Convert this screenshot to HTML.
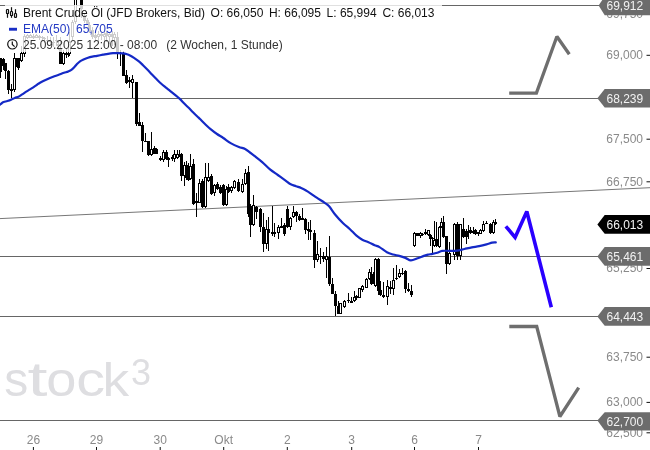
<!DOCTYPE html>
<html><head><meta charset="utf-8"><style>
html,body{margin:0;padding:0;background:#fff;}
body{width:650px;height:450px;overflow:hidden;position:relative;}
svg{position:absolute;left:0;top:0;display:block;will-change:transform;}
svg text{font-family:"Liberation Sans", Arial, sans-serif;font-size:12px;}
.ax{fill:#8a8a8a;}
.tg{fill:#f2f2f2;}
.wf{fill:#fff;}
.lg1{fill:#111;}
.lg2{fill:#2339c4;}
.lg3{fill:#333;}
.wm{fill:#dedee1;font-size:50px;}
</style></head><body>
<svg width="650" height="450" viewBox="0 0 650 450">
<g class="wmg" style="font-size:48px"><text class="wm" style="font-size:48px" transform="translate(4.2,396.3)">s</text><text class="wm" style="font-size:48px" transform="translate(27.4,396.3) scale(1.5,1)">t</text><text class="wm" style="font-size:48px" transform="translate(46.3,396.3) scale(1.13,1)">o</text><text class="wm" style="font-size:48px" transform="translate(76.3,396.3) scale(1.2,1)">c</text><text class="wm" style="font-size:48px" transform="translate(102.6,396.3) scale(1.11,0.95)">k</text></g>
<text x="131" y="384.6" class="wm" style="font-size:36px">3</text>
<g fill="#666">
<rect x="0" y="5" width="600" height="1"/>
<rect x="13" y="98" width="587" height="1"/>
<rect x="0" y="256" width="600" height="1"/>
<rect x="0" y="316" width="600" height="1"/>
<rect x="0" y="420" width="600" height="1"/>
</g>
<line x1="0" y1="218.6" x2="650" y2="187.7" stroke="#777" stroke-width="1"/>
<g fill="#000">
<rect x="0" y="58" width="1" height="20"/>
<rect x="-1" y="58" width="3" height="14"/>
<rect x="3" y="58" width="1" height="12"/>
<rect x="2" y="59" width="3" height="7"/>
<rect x="5" y="63" width="1" height="16"/>
<rect x="4" y="63" width="3" height="8"/>
<rect x="8" y="70" width="1" height="24"/>
<rect x="7" y="71" width="3" height="19"/>
<rect x="11" y="84" width="1" height="14"/>
<rect x="10" y="89" width="3" height="2"/>
<rect x="14" y="53" width="1" height="39"/>
<rect x="13" y="58" width="3" height="32"/>
<rect class="wf" x="14" y="59" width="1" height="30"/>
<rect x="16" y="58" width="1" height="9"/>
<rect x="15" y="58" width="3" height="9"/>
<rect x="18" y="58" width="1" height="12"/>
<rect x="17" y="58" width="3" height="10"/>
<rect x="21" y="46" width="1" height="16"/>
<rect x="20" y="53" width="3" height="8"/>
<rect class="wf" x="21" y="54" width="1" height="6"/>
<rect x="24" y="34" width="1" height="23"/>
<rect x="23" y="36" width="3" height="18"/>
<rect class="wf" x="24" y="37" width="1" height="16"/>
<rect x="27" y="34" width="1" height="5"/>
<rect x="26" y="35" width="3" height="3"/>
<rect class="wf" x="27" y="36" width="1" height="1"/>
<rect x="30" y="34" width="1" height="4"/>
<rect x="29" y="35" width="3" height="3"/>
<rect class="wf" x="30" y="36" width="1" height="1"/>
<rect x="33" y="34" width="1" height="5"/>
<rect x="32" y="36" width="3" height="2"/>
<rect x="36" y="34" width="1" height="4"/>
<rect x="35" y="35" width="3" height="3"/>
<rect class="wf" x="36" y="36" width="1" height="1"/>
<rect x="39" y="35" width="1" height="5"/>
<rect x="38" y="36" width="3" height="2"/>
<rect x="42" y="36" width="1" height="5"/>
<rect x="41" y="37" width="3" height="1"/>
<rect x="44" y="37" width="1" height="6"/>
<rect x="43" y="38" width="3" height="1"/>
<rect x="47" y="36" width="1" height="9"/>
<rect x="46" y="40" width="3" height="1"/>
<rect x="50" y="37" width="1" height="9"/>
<rect x="49" y="41" width="3" height="1"/>
<rect x="53" y="37" width="1" height="10"/>
<rect x="52" y="42" width="3" height="1"/>
<rect x="56" y="35" width="1" height="11"/>
<rect x="55" y="40" width="3" height="1"/>
<rect x="58" y="41" width="1" height="9"/>
<rect x="57" y="44" width="3" height="2"/>
<rect x="60" y="37" width="1" height="27"/>
<rect x="59" y="49" width="3" height="15"/>
<rect x="63" y="50" width="1" height="15"/>
<rect x="62" y="53" width="3" height="11"/>
<rect class="wf" x="63" y="54" width="1" height="9"/>
<rect x="66" y="49" width="1" height="9"/>
<rect x="65" y="53" width="3" height="2"/>
<rect x="68" y="48" width="1" height="9"/>
<rect x="67" y="54" width="3" height="1"/>
<rect x="69" y="32" width="1" height="24"/>
<rect x="68" y="42" width="3" height="12"/>
<rect class="wf" x="69" y="43" width="1" height="10"/>
<rect x="72" y="20" width="1" height="20"/>
<rect x="71" y="22" width="3" height="15"/>
<rect class="wf" x="72" y="23" width="1" height="13"/>
<rect x="75" y="-3" width="1" height="27"/>
<rect x="74" y="-2" width="3" height="24"/>
<rect class="wf" x="75" y="-1" width="1" height="22"/>
<rect x="81" y="-3" width="1" height="21"/>
<rect x="80" y="-2" width="3" height="11"/>
<rect x="84" y="14" width="1" height="9"/>
<rect x="83" y="16" width="3" height="5"/>
<rect x="87" y="18" width="1" height="7"/>
<rect x="86" y="20" width="3" height="4"/>
<rect x="89" y="22" width="1" height="11"/>
<rect x="88" y="25" width="3" height="6"/>
<rect x="92" y="27" width="1" height="12"/>
<rect x="91" y="30" width="3" height="7"/>
<rect x="95" y="30" width="1" height="12"/>
<rect x="94" y="35" width="3" height="3"/>
<rect x="98" y="31" width="1" height="13"/>
<rect x="97" y="34" width="3" height="3"/>
<rect class="wf" x="98" y="35" width="1" height="1"/>
<rect x="101" y="31" width="1" height="9"/>
<rect x="100" y="34" width="3" height="2"/>
<rect x="104" y="32" width="1" height="14"/>
<rect x="103" y="34" width="3" height="3"/>
<rect class="wf" x="104" y="35" width="1" height="1"/>
<rect x="106" y="31" width="1" height="11"/>
<rect x="105" y="33" width="3" height="3"/>
<rect x="109" y="32" width="1" height="12"/>
<rect x="108" y="34" width="3" height="3"/>
<rect class="wf" x="109" y="35" width="1" height="1"/>
<rect x="112" y="31" width="1" height="15"/>
<rect x="111" y="34" width="3" height="3"/>
<rect x="114" y="32" width="1" height="13"/>
<rect x="113" y="34" width="3" height="4"/>
<rect class="wf" x="114" y="35" width="1" height="2"/>
<rect x="117" y="32" width="1" height="27"/>
<rect x="116" y="37" width="3" height="17"/>
<rect x="120" y="50" width="1" height="16"/>
<rect x="119" y="53" width="3" height="1"/>
<rect x="123" y="51" width="1" height="25"/>
<rect x="122" y="53" width="3" height="23"/>
<rect x="126" y="70" width="1" height="14"/>
<rect x="125" y="75" width="3" height="8"/>
<rect x="129" y="77" width="1" height="11"/>
<rect x="128" y="80" width="3" height="2"/>
<rect x="132" y="75" width="1" height="23"/>
<rect x="131" y="79" width="3" height="4"/>
<rect class="wf" x="132" y="80" width="1" height="2"/>
<rect x="136" y="82" width="1" height="44"/>
<rect x="135" y="82" width="3" height="42"/>
<rect x="139" y="113" width="1" height="13"/>
<rect x="138" y="122" width="3" height="4"/>
<rect x="142" y="122" width="1" height="30"/>
<rect x="141" y="125" width="3" height="16"/>
<rect x="145" y="133" width="1" height="9"/>
<rect x="144" y="141" width="3" height="1"/>
<rect x="148" y="141" width="1" height="15"/>
<rect x="147" y="141" width="3" height="14"/>
<rect x="151" y="132" width="1" height="24"/>
<rect x="150" y="149" width="3" height="6"/>
<rect class="wf" x="151" y="150" width="1" height="4"/>
<rect x="154" y="146" width="1" height="8"/>
<rect x="153" y="148" width="3" height="6"/>
<rect x="156" y="148" width="1" height="6"/>
<rect x="155" y="149" width="3" height="5"/>
<rect x="160" y="156" width="1" height="5"/>
<rect x="159" y="158" width="3" height="2"/>
<rect x="163" y="150" width="1" height="12"/>
<rect x="162" y="152" width="3" height="8"/>
<rect class="wf" x="163" y="153" width="1" height="6"/>
<rect x="166" y="150" width="1" height="10"/>
<rect x="165" y="152" width="3" height="7"/>
<rect x="168" y="157" width="1" height="10"/>
<rect x="167" y="158" width="3" height="2"/>
<rect x="172" y="155" width="1" height="6"/>
<rect x="171" y="157" width="3" height="2"/>
<rect x="174" y="150" width="1" height="12"/>
<rect x="173" y="154" width="3" height="5"/>
<rect class="wf" x="174" y="155" width="1" height="3"/>
<rect x="177" y="150" width="1" height="9"/>
<rect x="176" y="154" width="3" height="4"/>
<rect class="wf" x="177" y="155" width="1" height="2"/>
<rect x="179" y="150" width="1" height="7"/>
<rect x="178" y="154" width="3" height="2"/>
<rect x="181" y="153" width="1" height="28"/>
<rect x="180" y="154" width="3" height="22"/>
<rect x="184" y="162" width="1" height="24"/>
<rect x="183" y="165" width="3" height="11"/>
<rect class="wf" x="184" y="166" width="1" height="9"/>
<rect x="186" y="161" width="1" height="19"/>
<rect x="185" y="165" width="3" height="13"/>
<rect x="188" y="163" width="1" height="18"/>
<rect x="187" y="166" width="3" height="14"/>
<rect x="190" y="154" width="1" height="26"/>
<rect x="189" y="166" width="3" height="13"/>
<rect class="wf" x="190" y="167" width="1" height="11"/>
<rect x="193" y="159" width="1" height="46"/>
<rect x="192" y="164" width="3" height="40"/>
<rect x="196" y="193" width="1" height="24"/>
<rect x="195" y="201" width="3" height="2"/>
<rect x="199" y="179" width="1" height="24"/>
<rect x="198" y="183" width="3" height="20"/>
<rect class="wf" x="199" y="184" width="1" height="18"/>
<rect x="202" y="179" width="1" height="29"/>
<rect x="201" y="181" width="3" height="26"/>
<rect x="205" y="163" width="1" height="45"/>
<rect x="204" y="177" width="3" height="30"/>
<rect class="wf" x="205" y="178" width="1" height="28"/>
<rect x="208" y="163" width="1" height="19"/>
<rect x="207" y="177" width="3" height="4"/>
<rect class="wf" x="208" y="178" width="1" height="2"/>
<rect x="211" y="174" width="1" height="21"/>
<rect x="210" y="176" width="3" height="18"/>
<rect x="214" y="184" width="1" height="12"/>
<rect x="213" y="185" width="3" height="8"/>
<rect class="wf" x="214" y="186" width="1" height="6"/>
<rect x="217" y="182" width="1" height="8"/>
<rect x="216" y="184" width="3" height="5"/>
<rect x="220" y="185" width="1" height="9"/>
<rect x="219" y="187" width="3" height="6"/>
<rect x="223" y="184" width="1" height="22"/>
<rect x="222" y="185" width="3" height="20"/>
<rect x="226" y="186" width="1" height="20"/>
<rect x="225" y="189" width="3" height="16"/>
<rect class="wf" x="226" y="190" width="1" height="14"/>
<rect x="228" y="184" width="1" height="9"/>
<rect x="227" y="187" width="3" height="5"/>
<rect x="231" y="186" width="1" height="7"/>
<rect x="230" y="187" width="3" height="4"/>
<rect class="wf" x="231" y="188" width="1" height="2"/>
<rect x="234" y="180" width="1" height="9"/>
<rect x="233" y="181" width="3" height="7"/>
<rect class="wf" x="234" y="182" width="1" height="5"/>
<rect x="238" y="179" width="1" height="13"/>
<rect x="237" y="182" width="3" height="9"/>
<rect x="242" y="179" width="1" height="14"/>
<rect x="241" y="184" width="3" height="8"/>
<rect class="wf" x="242" y="185" width="1" height="6"/>
<rect x="245" y="169" width="1" height="16"/>
<rect x="244" y="173" width="3" height="11"/>
<rect class="wf" x="245" y="174" width="1" height="9"/>
<rect x="248" y="166" width="1" height="51"/>
<rect x="247" y="172" width="3" height="42"/>
<rect x="250" y="204" width="1" height="33"/>
<rect x="249" y="206" width="3" height="19"/>
<rect x="253" y="195" width="1" height="31"/>
<rect x="252" y="205" width="3" height="20"/>
<rect class="wf" x="253" y="206" width="1" height="18"/>
<rect x="256" y="206" width="1" height="13"/>
<rect x="255" y="207" width="3" height="5"/>
<rect x="260" y="208" width="1" height="24"/>
<rect x="259" y="209" width="3" height="18"/>
<rect x="263" y="213" width="1" height="39"/>
<rect x="262" y="227" width="3" height="17"/>
<rect x="266" y="220" width="1" height="29"/>
<rect x="265" y="229" width="3" height="15"/>
<rect class="wf" x="266" y="230" width="1" height="13"/>
<rect x="268" y="217" width="1" height="34"/>
<rect x="267" y="229" width="3" height="4"/>
<rect x="272" y="206" width="1" height="30"/>
<rect x="271" y="232" width="3" height="2"/>
<rect x="274" y="223" width="1" height="14"/>
<rect x="273" y="232" width="3" height="2"/>
<rect x="278" y="225" width="1" height="14"/>
<rect x="277" y="227" width="3" height="6"/>
<rect class="wf" x="278" y="228" width="1" height="4"/>
<rect x="281" y="218" width="1" height="10"/>
<rect x="280" y="226" width="3" height="2"/>
<rect x="284" y="223" width="1" height="13"/>
<rect x="283" y="225" width="3" height="9"/>
<rect x="287" y="206" width="1" height="22"/>
<rect x="286" y="209" width="3" height="18"/>
<rect x="290" y="217" width="1" height="13"/>
<rect x="289" y="218" width="3" height="9"/>
<rect class="wf" x="290" y="219" width="1" height="7"/>
<rect x="293" y="206" width="1" height="12"/>
<rect x="292" y="212" width="3" height="5"/>
<rect class="wf" x="293" y="213" width="1" height="3"/>
<rect x="296" y="211" width="1" height="11"/>
<rect x="295" y="212" width="3" height="4"/>
<rect x="299" y="214" width="1" height="7"/>
<rect x="298" y="216" width="3" height="4"/>
<rect x="302" y="208" width="1" height="12"/>
<rect x="301" y="218" width="3" height="2"/>
<rect x="305" y="218" width="1" height="16"/>
<rect x="304" y="219" width="3" height="11"/>
<rect x="308" y="222" width="1" height="18"/>
<rect x="307" y="229" width="3" height="2"/>
<rect x="310" y="220" width="1" height="20"/>
<rect x="309" y="230" width="3" height="2"/>
<rect x="314" y="230" width="1" height="38"/>
<rect x="313" y="233" width="3" height="27"/>
<rect x="317" y="241" width="1" height="21"/>
<rect x="316" y="254" width="3" height="6"/>
<rect class="wf" x="317" y="255" width="1" height="4"/>
<rect x="320" y="248" width="1" height="16"/>
<rect x="319" y="256" width="3" height="1"/>
<rect x="323" y="252" width="1" height="10"/>
<rect x="322" y="256" width="3" height="3"/>
<rect x="326" y="247" width="1" height="31"/>
<rect x="325" y="256" width="3" height="4"/>
<rect class="wf" x="326" y="257" width="1" height="2"/>
<rect x="329" y="236" width="1" height="50"/>
<rect x="328" y="257" width="3" height="27"/>
<rect x="332" y="278" width="1" height="16"/>
<rect x="331" y="284" width="3" height="10"/>
<rect x="335" y="291" width="1" height="25"/>
<rect x="334" y="294" width="3" height="12"/>
<rect x="338" y="301" width="1" height="13"/>
<rect x="337" y="306" width="3" height="8"/>
<rect x="340" y="303" width="1" height="11"/>
<rect x="339" y="303" width="3" height="11"/>
<rect class="wf" x="340" y="304" width="1" height="9"/>
<rect x="344" y="300" width="1" height="8"/>
<rect x="343" y="301" width="3" height="6"/>
<rect class="wf" x="344" y="302" width="1" height="4"/>
<rect x="348" y="293" width="1" height="10"/>
<rect x="347" y="300" width="3" height="1"/>
<rect x="351" y="297" width="1" height="6"/>
<rect x="350" y="301" width="3" height="2"/>
<rect x="354" y="291" width="1" height="11"/>
<rect x="353" y="297" width="3" height="4"/>
<rect class="wf" x="354" y="298" width="1" height="2"/>
<rect x="356" y="295" width="1" height="5"/>
<rect x="355" y="296" width="3" height="2"/>
<rect x="359" y="288" width="1" height="10"/>
<rect x="358" y="288" width="3" height="10"/>
<rect class="wf" x="359" y="289" width="1" height="8"/>
<rect x="362" y="285" width="1" height="7"/>
<rect x="361" y="286" width="3" height="4"/>
<rect class="wf" x="362" y="287" width="1" height="2"/>
<rect x="366" y="278" width="1" height="10"/>
<rect x="365" y="279" width="3" height="9"/>
<rect class="wf" x="366" y="280" width="1" height="7"/>
<rect x="369" y="269" width="1" height="11"/>
<rect x="368" y="272" width="3" height="7"/>
<rect class="wf" x="369" y="273" width="1" height="5"/>
<rect x="371" y="267" width="1" height="18"/>
<rect x="370" y="274" width="3" height="10"/>
<rect x="373" y="272" width="1" height="12"/>
<rect x="372" y="275" width="3" height="8"/>
<rect x="375" y="258" width="1" height="29"/>
<rect x="374" y="259" width="3" height="27"/>
<rect class="wf" x="375" y="260" width="1" height="25"/>
<rect x="378" y="258" width="1" height="37"/>
<rect x="377" y="259" width="3" height="32"/>
<rect x="380" y="281" width="1" height="15"/>
<rect x="379" y="290" width="3" height="5"/>
<rect x="383" y="282" width="1" height="16"/>
<rect x="382" y="295" width="3" height="2"/>
<rect x="387" y="280" width="1" height="25"/>
<rect x="386" y="286" width="3" height="11"/>
<rect class="wf" x="387" y="287" width="1" height="9"/>
<rect x="390" y="281" width="1" height="13"/>
<rect x="389" y="287" width="3" height="2"/>
<rect x="393" y="268" width="1" height="27"/>
<rect x="392" y="280" width="3" height="9"/>
<rect class="wf" x="393" y="281" width="1" height="7"/>
<rect x="396" y="265" width="1" height="15"/>
<rect x="395" y="278" width="3" height="1"/>
<rect x="399" y="269" width="1" height="9"/>
<rect x="398" y="273" width="3" height="4"/>
<rect class="wf" x="399" y="274" width="1" height="2"/>
<rect x="402" y="268" width="1" height="7"/>
<rect x="401" y="273" width="3" height="1"/>
<rect x="405" y="270" width="1" height="23"/>
<rect x="404" y="271" width="3" height="18"/>
<rect x="408" y="283" width="1" height="9"/>
<rect x="407" y="289" width="3" height="2"/>
<rect x="411" y="285" width="1" height="12"/>
<rect x="410" y="291" width="3" height="4"/>
<rect x="414" y="232" width="1" height="15"/>
<rect x="413" y="233" width="3" height="13"/>
<rect class="wf" x="414" y="234" width="1" height="11"/>
<rect x="417" y="233" width="1" height="3"/>
<rect x="416" y="233" width="3" height="3"/>
<rect x="420" y="232" width="1" height="6"/>
<rect x="419" y="233" width="3" height="3"/>
<rect class="wf" x="420" y="234" width="1" height="1"/>
<rect x="422" y="233" width="1" height="3"/>
<rect x="421" y="234" width="3" height="1"/>
<rect x="425" y="229" width="1" height="6"/>
<rect x="424" y="232" width="3" height="2"/>
<rect x="428" y="230" width="1" height="6"/>
<rect x="427" y="230" width="3" height="5"/>
<rect class="wf" x="428" y="231" width="1" height="3"/>
<rect x="430" y="234" width="1" height="12"/>
<rect x="429" y="235" width="3" height="4"/>
<rect x="432" y="237" width="1" height="17"/>
<rect x="431" y="238" width="3" height="1"/>
<rect x="434" y="221" width="1" height="26"/>
<rect x="433" y="240" width="3" height="6"/>
<rect class="wf" x="434" y="241" width="1" height="4"/>
<rect x="436" y="222" width="1" height="25"/>
<rect x="435" y="239" width="3" height="7"/>
<rect x="439" y="226" width="1" height="22"/>
<rect x="438" y="227" width="3" height="20"/>
<rect class="wf" x="439" y="228" width="1" height="18"/>
<rect x="441" y="218" width="1" height="10"/>
<rect x="440" y="222" width="3" height="5"/>
<rect class="wf" x="441" y="223" width="1" height="3"/>
<rect x="443" y="216" width="1" height="22"/>
<rect x="442" y="222" width="3" height="15"/>
<rect x="446" y="236" width="1" height="38"/>
<rect x="445" y="236" width="3" height="28"/>
<rect x="449" y="242" width="1" height="23"/>
<rect x="448" y="253" width="3" height="11"/>
<rect class="wf" x="449" y="254" width="1" height="9"/>
<rect x="454" y="223" width="1" height="37"/>
<rect x="453" y="224" width="3" height="31"/>
<rect class="wf" x="454" y="225" width="1" height="29"/>
<rect x="457" y="222" width="1" height="38"/>
<rect x="456" y="224" width="3" height="32"/>
<rect x="460" y="224" width="1" height="36"/>
<rect x="459" y="224" width="3" height="32"/>
<rect class="wf" x="460" y="225" width="1" height="30"/>
<rect x="463" y="218" width="1" height="20"/>
<rect x="462" y="229" width="3" height="8"/>
<rect x="466" y="229" width="1" height="15"/>
<rect x="465" y="231" width="3" height="6"/>
<rect x="468" y="225" width="1" height="14"/>
<rect x="467" y="231" width="3" height="2"/>
<rect x="470" y="227" width="1" height="7"/>
<rect x="469" y="230" width="3" height="3"/>
<rect x="473" y="227" width="1" height="7"/>
<rect x="472" y="231" width="3" height="2"/>
<rect x="475" y="229" width="1" height="6"/>
<rect x="474" y="230" width="3" height="4"/>
<rect x="478" y="232" width="1" height="4"/>
<rect x="477" y="232" width="3" height="2"/>
<rect x="480" y="229" width="1" height="5"/>
<rect x="479" y="230" width="3" height="4"/>
<rect class="wf" x="480" y="231" width="1" height="2"/>
<rect x="483" y="221" width="1" height="11"/>
<rect x="482" y="224" width="3" height="7"/>
<rect class="wf" x="483" y="225" width="1" height="5"/>
<rect x="486" y="221" width="1" height="3"/>
<rect x="485" y="223" width="3" height="1"/>
<rect x="490" y="223" width="1" height="11"/>
<rect x="489" y="224" width="3" height="9"/>
<rect x="493" y="220" width="1" height="14"/>
<rect x="492" y="222" width="3" height="11"/>
<rect class="wf" x="493" y="223" width="1" height="9"/>
<rect x="495" y="219" width="1" height="6"/>
<rect x="494" y="222" width="3" height="2"/>
</g>
<path d="M-1,105.4 C-0.83,105.27 -0.50,105.00 0,104.6 C0.50,104.20 1.38,103.43 2,103 C2.62,102.57 2.80,102.33 3.7,102 C4.60,101.67 6.17,101.38 7.4,101 C8.63,100.62 9.87,100.22 11.1,99.7 C12.33,99.18 13.57,98.40 14.8,97.9 C16.03,97.40 17.27,97.28 18.5,96.7 C19.73,96.12 20.83,95.28 22.2,94.4 C23.57,93.52 25.40,92.23 26.7,91.4 C28.00,90.57 28.90,90.08 30,89.4 C31.10,88.72 32.18,88.03 33.3,87.3 C34.42,86.57 35.58,85.77 36.7,85 C37.82,84.23 38.35,83.62 40,82.7 C41.65,81.78 44.20,80.57 46.6,79.5 C49.00,78.43 52.17,77.17 54.4,76.3 C56.63,75.43 58.40,74.88 60,74.3 C61.60,73.72 62.67,73.25 64,72.8 C65.33,72.35 66.83,72.03 68,71.6 C69.17,71.17 70.00,70.88 71,70.2 C72.00,69.52 73.00,68.53 74,67.5 C75.00,66.47 76.00,65.03 77,64 C78.00,62.97 78.92,62.05 80,61.3 C81.08,60.55 82.17,60.10 83.5,59.5 C84.83,58.90 86.53,58.18 88,57.7 C89.47,57.22 90.80,56.92 92.3,56.6 C93.80,56.28 95.22,56.12 97,55.8 C98.78,55.48 101.17,55.03 103,54.7 C104.83,54.37 106.33,54.05 108,53.8 C109.67,53.55 111.33,53.32 113,53.2 C114.67,53.08 116.33,53.07 118,53.1 C119.67,53.13 121.50,53.20 123,53.4 C124.50,53.60 125.83,53.95 127,54.3 C128.17,54.65 128.83,54.90 130,55.5 C131.17,56.10 132.52,56.92 134,57.9 C135.48,58.88 137.40,60.18 138.9,61.4 C140.40,62.62 141.52,63.77 143,65.2 C144.48,66.63 146.30,68.45 147.8,70 C149.30,71.55 150.52,72.95 152,74.5 C153.48,76.05 155.20,77.80 156.7,79.3 C158.20,80.80 159.52,82.17 161,83.5 C162.48,84.83 164.10,86.08 165.6,87.3 C167.10,88.52 168.53,89.62 170,90.8 C171.47,91.98 172.77,93.05 174.4,94.4 C176.03,95.75 178.20,97.42 179.8,98.9 C181.40,100.38 182.52,101.82 184,103.3 C185.48,104.78 187.20,106.32 188.7,107.8 C190.20,109.28 191.52,110.72 193,112.2 C194.48,113.68 196.43,115.57 197.6,116.7 C198.77,117.83 198.77,117.78 200,119 C201.23,120.22 203.18,122.27 205,124 C206.82,125.73 208.90,127.73 210.9,129.4 C212.90,131.07 214.93,132.57 217,134 C219.07,135.43 220.95,136.43 223.3,138 C225.65,139.57 228.50,141.90 231.1,143.4 C233.70,144.90 236.57,146.08 238.9,147 C241.23,147.92 243.25,147.98 245.1,148.9 C246.95,149.82 248.45,151.33 250,152.5 C251.55,153.67 252.37,154.30 254.4,155.9 C256.43,157.50 259.60,159.85 262.2,162.1 C264.80,164.35 267.40,167.25 270,169.4 C272.60,171.55 275.20,173.13 277.8,175 C280.40,176.87 283.53,179.10 285.6,180.6 C287.67,182.10 288.47,183.07 290.2,184 C291.93,184.93 294.18,185.53 296,186.2 C297.82,186.87 299.43,187.28 301.1,188 C302.77,188.72 304.45,189.62 306,190.5 C307.55,191.38 308.62,192.10 310.4,193.3 C312.18,194.50 314.37,196.15 316.7,197.7 C319.03,199.25 322.33,201.18 324.4,202.6 C326.47,204.02 327.28,204.17 329.1,206.2 C330.92,208.23 332.97,211.95 335.3,214.8 C337.63,217.65 340.65,220.90 343.1,223.3 C345.55,225.70 347.82,227.18 350,229.2 C352.18,231.22 354.15,233.65 356.2,235.4 C358.25,237.15 360.25,238.57 362.3,239.7 C364.35,240.83 366.45,241.28 368.5,242.2 C370.55,243.12 372.77,244.38 374.6,245.2 C376.43,246.02 377.45,245.93 379.5,247.1 C381.55,248.27 384.63,250.97 386.9,252.2 C389.17,253.43 391.05,253.88 393.1,254.5 C395.15,255.12 397.15,255.33 399.2,255.9 C401.25,256.47 403.45,257.15 405.4,257.9 C407.35,258.65 408.85,260.35 410.9,260.4 C412.95,260.45 415.55,258.95 417.7,258.2 C419.85,257.45 422.08,256.50 423.8,255.9 C425.52,255.30 426.57,254.93 428,254.6 C429.43,254.27 430.85,254.22 432.4,253.9 C433.95,253.58 435.67,253.20 437.3,252.7 C438.93,252.20 440.15,251.22 442.2,250.9 C444.25,250.58 447.13,250.85 449.6,250.8 C452.07,250.75 454.53,250.90 457,250.6 C459.47,250.30 461.93,249.53 464.4,249 C466.87,248.47 469.33,247.87 471.8,247.4 C474.27,246.93 476.75,246.70 479.2,246.2 C481.65,245.70 484.35,245.00 486.5,244.4 C488.65,243.80 490.55,242.93 492.1,242.6 C493.65,242.27 495.18,242.43 495.8,242.4" fill="none" stroke="#1429c6" stroke-width="2.2" stroke-linejoin="round" stroke-linecap="round"/>
<rect x="5" y="5" width="437" height="47" fill="#fff" fill-opacity="0.8"/>
<g fill="none" stroke="#6e6e6e" stroke-width="3.3" stroke-linejoin="miter" stroke-miterlimit="2">
<polyline points="509.2,93.1 536.4,93.1 556.9,36.5 569.3,54.3"/>
<polyline points="509.3,326.5 536.7,326.5 559.9,416.5 578.7,387.6"/>
</g>
<polyline points="505.8,226.3 515.1,237.4 526.8,211.5 551.3,307.2" fill="none" stroke="#2a00ff" stroke-width="3.6" stroke-linejoin="miter" stroke-miterlimit="2"/>
<text x="643" y="17.8" class="ax" text-anchor="end">69,750</text><rect x="646.5" y="13.5" width="3.5" height="1" fill="#111"/><text x="643" y="59.1" class="ax" text-anchor="end">69,000</text><rect x="646.5" y="54.8" width="3.5" height="1" fill="#111"/><text x="643" y="100.8" class="ax" text-anchor="end">68,250</text><rect x="646.5" y="96.5" width="3.5" height="1" fill="#111"/><text x="643" y="143.0" class="ax" text-anchor="end">67,500</text><rect x="646.5" y="138.7" width="3.5" height="1" fill="#111"/><text x="643" y="185.6" class="ax" text-anchor="end">66,750</text><rect x="646.5" y="181.3" width="3.5" height="1" fill="#111"/><text x="643" y="228.7" class="ax" text-anchor="end">66,000</text><rect x="646.5" y="224.4" width="3.5" height="1" fill="#111"/><text x="643" y="272.3" class="ax" text-anchor="end">65,250</text><rect x="646.5" y="268.0" width="3.5" height="1" fill="#111"/><text x="643" y="316.4" class="ax" text-anchor="end">64,500</text><rect x="646.5" y="312.1" width="3.5" height="1" fill="#111"/><text x="643" y="361.0" class="ax" text-anchor="end">63,750</text><rect x="646.5" y="356.7" width="3.5" height="1" fill="#111"/><text x="643" y="406.2" class="ax" text-anchor="end">63,000</text><rect x="646.5" y="401.9" width="3.5" height="1" fill="#111"/><text x="643" y="436.6" class="ax" text-anchor="end">62,500</text><rect x="646.5" y="432.3" width="3.5" height="1" fill="#111"/>
<polygon points="598.6,5.6 604.7,-3.7 650,-3.7 650,15.3 604.7,15.3" fill="#6c6c6c"/><text x="606.5" y="10.0" class="tg">69,912</text>
<polygon points="597.4,98.3 604.7,89.0 650,89.0 650,107.6 604.7,107.6" fill="#6c6c6c"/><text x="606.5" y="102.6" class="tg">68,239</text>
<polygon points="597.4,224.4 604.7,215.1 650,215.1 650,233.70000000000002 604.7,233.70000000000002" fill="#000"/><text x="606.5" y="228.7" class="tg">66,013</text>
<polygon points="597.4,256.4 604.7,247.09999999999997 650,247.09999999999997 650,265.7 604.7,265.7" fill="#6c6c6c"/><text x="606.5" y="260.7" class="tg">65,461</text>
<polygon points="597.4,316.4 604.7,307.09999999999997 650,307.09999999999997 650,325.7 604.7,325.7" fill="#6c6c6c"/><text x="606.5" y="320.7" class="tg">64,443</text>
<polygon points="597.4,420.6 604.7,412.2 650,412.2 650,430.6 604.7,430.6" fill="#6c6c6c"/><text x="606.5" y="425.9" class="tg">62,700</text>
<text x="33.4" y="444" class="ax" text-anchor="middle">26</text><rect x="32.9" y="447" width="1" height="3" fill="#111"/><text x="96.5" y="444" class="ax" text-anchor="middle">29</text><rect x="96.0" y="447" width="1" height="3" fill="#111"/><text x="160.2" y="444" class="ax" text-anchor="middle">30</text><rect x="159.7" y="447" width="1" height="3" fill="#111"/><text x="223.7" y="444" class="ax" text-anchor="middle">Okt</text><rect x="223.2" y="447" width="1" height="3" fill="#111"/><text x="287.3" y="444" class="ax" text-anchor="middle">2</text><rect x="286.8" y="447" width="1" height="3" fill="#111"/><text x="351.7" y="444" class="ax" text-anchor="middle">3</text><rect x="351.2" y="447" width="1" height="3" fill="#111"/><text x="414.5" y="444" class="ax" text-anchor="middle">6</text><rect x="414.0" y="447" width="1" height="3" fill="#111"/><text x="478.5" y="444" class="ax" text-anchor="middle">7</text><rect x="478.0" y="447" width="1" height="3" fill="#111"/>
<!-- legend -->
<g fill="none" stroke="#111" stroke-width="1.2">
<rect x="6.5" y="9.5" width="2" height="4" rx="0.6"/>
<line x1="7.5" y1="13.5" x2="7.5" y2="17.8"/>
<line x1="11.5" y1="7.2" x2="11.5" y2="11.5"/>
<rect x="10.5" y="11.5" width="2" height="4" rx="0.6"/>
<line x1="11.5" y1="15.5" x2="11.5" y2="17.8"/>
<line x1="15.5" y1="9.2" x2="15.5" y2="13.5"/>
<rect x="14.5" y="13.5" width="2" height="3.8" rx="0.6"/>
<circle cx="12.4" cy="44.3" r="4.7"/>
<polyline points="12.3,41.5 12.3,44.5 14.6,46.6"/>
</g>
<rect x="9" y="27.8" width="8" height="2.9" fill="#1a2fc6"/>
<text x="23" y="16.5" class="lg1">Brent Crude Öl (JFD Brokers, Bid)</text>
<text x="210.6" y="16.5" class="lg1">O: 66,050</text>
<text x="268.9" y="16.5" class="lg1">H: 66,095</text>
<text x="326.6" y="16.5" class="lg1">L: 65,994</text>
<text x="382.4" y="16.5" class="lg1">C: 66,013</text>
<text x="23" y="32.5" class="lg2">EMA(50)</text>
<text x="76" y="32.5" class="lg2">65,705</text>
<text x="23" y="48.7" class="lg3">25.09.2025 12:00 - 08:00</text>
<text x="166.2" y="48.7" class="lg3">(2 Wochen, 1 Stunde)</text>
</svg>
</body></html>
